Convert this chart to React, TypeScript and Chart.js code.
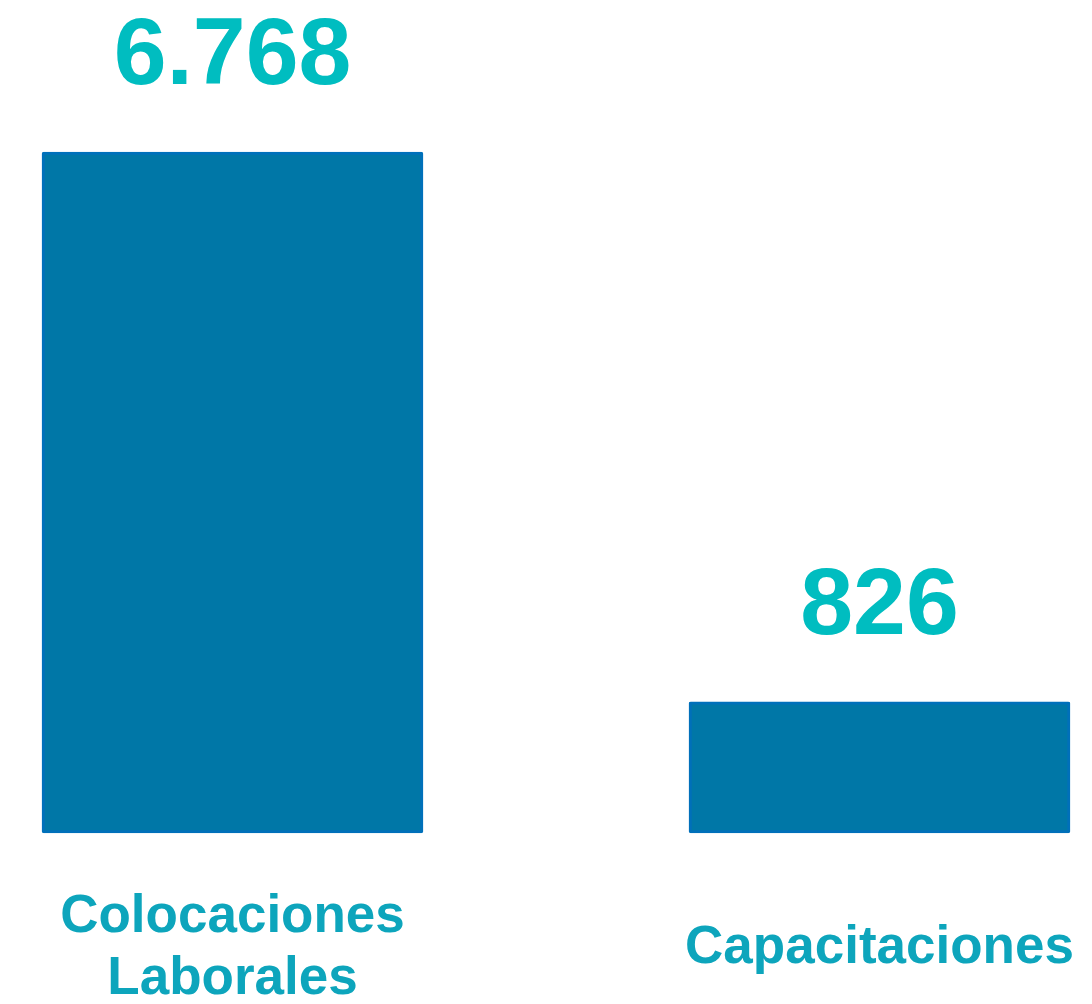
import React, { useEffect, useRef } from "react";
import { Chart, registerables } from "chart.js";

Chart.register(...registerables);

const categories: (string | string[])[] = [["Colocaciones", "Laborales"], "Capacitaciones"];
const values: number[] = [6768, 826];

const BAR_FILL = "#0077A7";
const BAR_BORDER = "#0070BA";
const VALUE_COLOR = "#00BDC0";
const LABEL_COLOR = "#0DA5BC";
const FONT = '"Liberation Sans", Arial, sans-serif';

const fmt = (v: number) => String(v).replace(/\B(?=(\d{3})+(?!\d))/g, ".");

const valueLabels = {
  id: "valueLabels",
  afterDatasetsDraw(chart: any) {
    const ctx = chart.ctx;
    const meta = chart.getDatasetMeta(0);
    ctx.save();
    ctx.font = `bold 95px ${FONT}`;
    ctx.fillStyle = VALUE_COLOR;
    ctx.textAlign = "center";
    ctx.textBaseline = "alphabetic";
    meta.data.forEach((bar: any, i: number) => {
      ctx.fillText(fmt(values[i]), bar.x, bar.y - 68);
    });
    ctx.restore();
  },
};

export default function App() {
  const ref = useRef<HTMLCanvasElement | null>(null);
  useEffect(() => {
    if (!ref.current) return;
    const chart = new Chart(ref.current, {
      type: "bar",
      data: {
        labels: categories as any,
        datasets: [
          {
            data: values,
            backgroundColor: BAR_FILL,
            borderColor: BAR_BORDER,
            borderWidth: 3,
            borderRadius: 2,
            borderSkipped: false,
            barThickness: 381,
            clip: false as any,
          },
        ],
      },
      options: {
        animation: false,
        responsive: true,
        maintainAspectRatio: false,
        layout: { padding: { left: 232.5, right: 212.5, top: 50, bottom: 0 } },
        plugins: { legend: { display: false }, tooltip: { enabled: false } },
        scales: {
          x: {
            offset: false,
            grid: { display: false, drawTicks: true, tickLength: 84 },
            border: { display: false },
            afterFit: (axis: any) => {
              axis.height = 171;
            },
            ticks: {
              padding: 0,
              color: LABEL_COLOR,
              maxRotation: 0,
              autoSkip: false,
              crossAlign: "center",
              font: { family: FONT, size: 53, weight: "bold", lineHeight: 1.17 },
            },
          },
          y: {
            type: "logarithmic",
            display: false,
            min: 500,
            max: 10000,
          },
        },
      },
      plugins: [valueLabels],
    });
    return () => chart.destroy();
  }, []);
  return (
    <div style={{ position: "absolute", left: 0, top: 0, width: 1092, height: 1004, background: "#fff" }}>
      <canvas ref={ref} />
    </div>
  );
}
